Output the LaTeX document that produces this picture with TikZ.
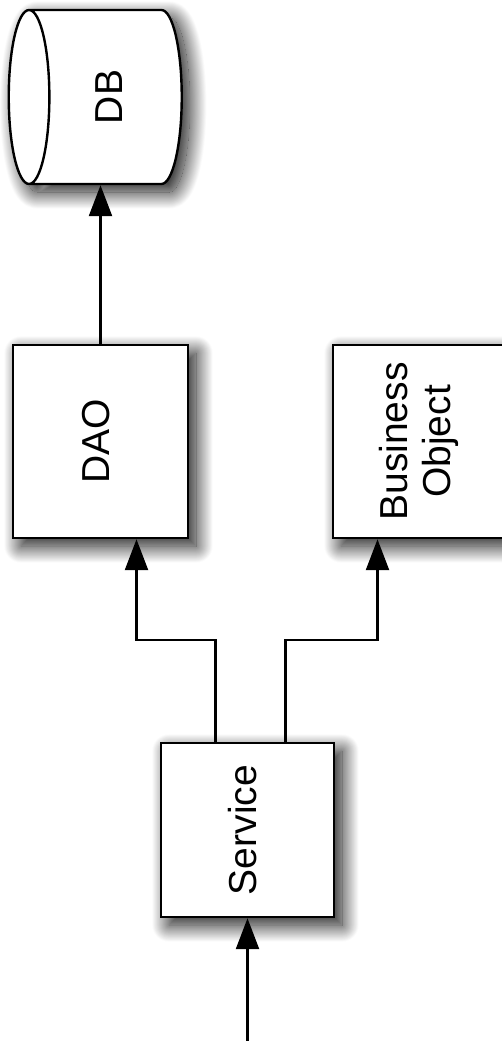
\documentclass[tikz,border=0pt]{standalone}
\usepackage{fontspec}
\setmainfont{Liberation Sans}
\usepackage{graphicx}
\usetikzlibrary{arrows.meta, shapes.geometric, positioning, calc, shadows.blur}

\newcommand{\vtext}[1]{\rotatebox{90}{\begin{tabular}{@{}c@{}}#1\end{tabular}}}

\begin{document}
\begin{tikzpicture}[
        x=1pt, y=-1pt,
        font=\fontsize{39}{43}\selectfont,
        shade/.style={blur shadow={shadow xshift=8pt, shadow yshift=-8pt, shadow blur radius=17pt, shadow blur steps=50, shadow opacity=95}},
        layer/.style={rectangle, draw, line width=2.4pt, fill=white, inner sep=0pt, shade},
        store/.style={cylinder, shape border rotate=180, aspect=0.75, draw, line width=2.4pt, fill=white, inner sep=0pt, shade},
        arrow/.style={-{Triangle[length=31pt, width=23pt]}, line width=2.4pt}
    ]
        \useasboundingbox (0,0) rectangle (501,1041);

        \node[store, minimum width=174pt, minimum height=173pt] (db) at (106,97) {\hspace*{16pt}\vtext{DB}};
        \node[layer, minimum width=175pt, minimum height=193pt] (dao) at (100.5,441.5) {\vtext{DAO}};
        \node[layer, minimum width=175pt, minimum height=193pt] (bo) at (420.5,441.5) {\vtext{Business\\Object}};
        \node[layer, minimum width=173pt, minimum height=174pt] (service) at (247.5,830) {\vtext{Service}};
        \coordinate (in) at (247.5,1045);

        \draw[arrow] (in) -- (service);
        \draw[arrow] ([xshift=-32pt]service.north) -- ++(0,-102) -| ([xshift=36pt]dao.south);
        \draw[arrow] ([xshift=38pt]service.north) -- ++(0,-102) -| ([xshift=-43pt]bo.south);
        \draw[arrow] (dao.north) -- (dao.north |- db.south);
    \end{tikzpicture}
\end{document}
